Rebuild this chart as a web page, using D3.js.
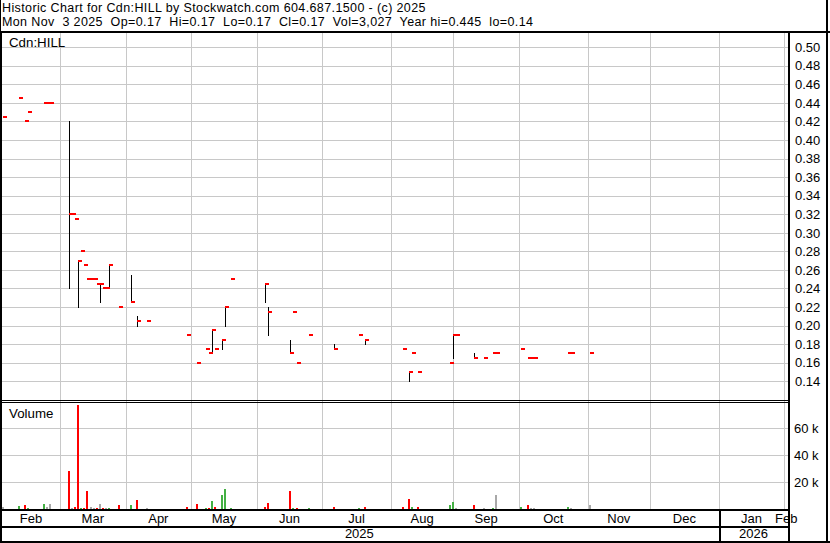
<!DOCTYPE html>
<html>
<head>
<meta charset="utf-8">
<title>Historic Chart for Cdn:HILL</title>
<script src="https://cdn.jsdelivr.net/npm/d3@7"></script>
<style>
    body { margin: 0; background: #fff; }
    svg { display: block; font-family: "Liberation Sans", Arial, sans-serif; }
    text { white-space: pre; }
</style>
</head>
<body>
<svg id="chart"></svg>
<script>
// Days that traded (price in $, volume in shares)
const dates = [
    "2025-02-03", "2025-02-10", "2025-02-12", "2025-02-13", "2025-02-21", "2025-02-24", "2025-02-25",
    "2025-03-05", "2025-03-06", "2025-03-07", "2025-03-10", "2025-03-11", "2025-03-12", "2025-03-13",
    "2025-03-14", "2025-03-17", "2025-03-18", "2025-03-19", "2025-03-20", "2025-03-21", "2025-03-24",
    "2025-03-27", "2025-04-02", "2025-04-04", "2025-04-09", "2025-04-29", "2025-05-02", "2025-05-07",
    "2025-05-08", "2025-05-09", "2025-05-12", "2025-05-14", "2025-05-15", "2025-05-20", "2025-06-04",
    "2025-06-05", "2025-06-16", "2025-06-17", "2025-06-18", "2025-06-24", "2025-07-07", "2025-07-17",
    "2025-07-21", "2025-08-07", "2025-08-11", "2025-08-12", "2025-08-14", "2025-08-28", "2025-08-29",
    "2025-09-02", "2025-09-10", "2025-09-15", "2025-09-18", "2025-09-19", "2025-10-01", "2025-10-03",
    "2025-10-06", "2025-10-07", "2025-10-23", "2025-10-24", "2025-11-03"
];
const highs = [
    0.425, 0.445, 0.42, 0.43, 0.44, 0.44, 0.44,
    0.42, 0.32, 0.315, 0.27, 0.28, 0.265, 0.25,
    0.25, 0.25, 0.245, 0.245, 0.24, 0.24, 0.265,
    0.22, 0.255, 0.21, 0.205, 0.19, 0.16, 0.175,
    0.17, 0.195, 0.175, 0.185, 0.22, 0.25, 0.245,
    0.22, 0.185, 0.215, 0.16, 0.19, 0.18, 0.19,
    0.185, 0.175, 0.15, 0.17, 0.15, 0.16, 0.19,
    0.19, 0.17, 0.165, 0.17, 0.17, 0.175, 0.165,
    0.165, 0.165, 0.17, 0.17, 0.17
];
const lows = [
    0.425, 0.445, 0.42, 0.43, 0.44, 0.44, 0.44,
    0.24, 0.32, 0.315, 0.22, 0.28, 0.265, 0.25,
    0.25, 0.25, 0.245, 0.225, 0.24, 0.24, 0.24,
    0.22, 0.225, 0.20, 0.205, 0.19, 0.16, 0.175,
    0.17, 0.17, 0.175, 0.175, 0.20, 0.25, 0.225,
    0.19, 0.17, 0.215, 0.16, 0.19, 0.175, 0.19,
    0.18, 0.175, 0.14, 0.17, 0.15, 0.16, 0.165,
    0.19, 0.165, 0.165, 0.17, 0.17, 0.175, 0.165,
    0.165, 0.165, 0.17, 0.17, 0.17
];
const closes = [
    0.425, 0.445, 0.42, 0.43, 0.44, 0.44, 0.44,
    0.32, 0.32, 0.315, 0.27, 0.28, 0.265, 0.25,
    0.25, 0.25, 0.245, 0.245, 0.24, 0.24, 0.265,
    0.22, 0.225, 0.205, 0.205, 0.19, 0.16, 0.175,
    0.17, 0.195, 0.175, 0.185, 0.22, 0.25, 0.245,
    0.215, 0.17, 0.215, 0.16, 0.19, 0.175, 0.19,
    0.185, 0.175, 0.15, 0.17, 0.15, 0.16, 0.19,
    0.19, 0.165, 0.165, 0.17, 0.17, 0.175, 0.165,
    0.165, 0.165, 0.17, 0.17, 0.17
];
const volumes = [
    1500, 2300, 3000, 1000, 3800, 1500, 3800,
    28000, 1000, 1500, 77000, 1000, 1000, 13000,
    1500, 1000, 500, 3800, 1000, 1000, 1000,
    3000, 3000, 7000, 500, 1500, 3800, 1000,
    500, 6000, 1500, 10500, 15000, 1000, 1500,
    4500, 13000, 500, 1000, 1000, 1500, 500,
    1500, 1500, 7500, 1500, 1500, 3000, 5000,
    1000, 3000, 1000, 500, 10500, 1500, 3000,
    1000, 1000, 1500, 500, 3027
];
const prevClose = 0.425;    // close before the first day shown (first bar is unchanged)

// Axis ticks and calendar
const priceTicks = [0.14, 0.16, 0.18, 0.20, 0.22, 0.24, 0.26, 0.28, 0.30, 0.32,
                    0.34, 0.36, 0.38, 0.40, 0.42, 0.44, 0.46, 0.48, 0.50];
const volumeTicks = [20000, 40000, 60000];
const holidays = ["2025-02-17", "2025-04-18", "2025-05-19", "2025-07-01", "2025-08-04",
                  "2025-09-01", "2025-10-13", "2025-12-25", "2026-01-01"];
const headerLines = [
    "Historic Chart for Cdn:HILL by Stockwatch.com 604.687.1500 - (c) 2025",
    "Mon Nov  3 2025  Op=0.17  Hi=0.17  Lo=0.17  Cl=0.17  Vol=3,027  Year hi=0.445  lo=0.14"
];

const W = 830, H = 543;
const plot = { left: 2, right: 788.3, priceTop: 33, priceBottom: 400, volTop: 403, volBottom: 509 };
const colors = { up: "#44b044", down: "#ff0000", flat: "#a8a8a8", grid: "#c8c8c8" };

const parseDay = d3.utcParse("%Y-%m-%d");
const fmtDay = d3.utcFormat("%Y-%m-%d");
const fmtMonth = d3.utcFormat("%b");

// trading calendar: weekdays minus exchange holidays, x is the trading-day index
const holidaySet = new Set(holidays);
const tradingDays = d3.utcDay.range(parseDay("2025-02-03"), parseDay("2026-03-01"))
    .filter(d => d.getUTCDay() % 6 !== 0 && !holidaySet.has(fmtDay(d)));
const dayIndex = new Map(tradingDays.map((d, i) => [fmtDay(d), i]));

const x = d3.scaleLinear().domain([0, 188]).range([3.1, 590]);
const slotShift = 2.4;      // month gridline sits just before the first bar of the month
const yPrice = d3.scaleLinear().domain([0.14, 0.50]).range([381.3, 47.2]);
const yVol = d3.scaleLinear().domain([0, 80000]).range([509, 401]);

const bars = dates.map((d, i) => ({
    idx: dayIndex.get(d),
    hi: highs[i], lo: lows[i], cl: closes[i], vol: volumes[i],
    prev: i === 0 ? prevClose : closes[i - 1]
}));

const svg = d3.select("#chart").attr("width", W).attr("height", H)
    .style("background", "#fff");

svg.append("defs").call(defs => {
    defs.append("clipPath").attr("id", "clipPrice").append("rect")
        .attr("x", plot.left).attr("y", plot.priceTop)
        .attr("width", plot.right - plot.left).attr("height", plot.priceBottom - plot.priceTop);
    defs.append("clipPath").attr("id", "clipVol").append("rect")
        .attr("x", plot.left).attr("y", plot.volTop)
        .attr("width", plot.right - plot.left).attr("height", plot.volBottom - plot.volTop);
});

// month boundaries -> gridline positions
const months = d3.utcMonth.range(parseDay("2025-02-01"), parseDay("2026-02-02")).map(m => {
    const i = tradingDays.findIndex(d => d >= m);
    return { date: m, gx: x(i) - slotShift };
});
months.forEach((m, i) => {
    m.x0 = Math.max(plot.left, m.gx);
    m.x1 = i < months.length - 1 ? Math.min(plot.right, months[i + 1].gx) : plot.right;
});

// ---- gridlines
const grid = svg.append("g").attr("stroke", colors.grid).attr("stroke-width", 1)
    .attr("shape-rendering", "crispEdges");
grid.selectAll(".hp").data(priceTicks).join("line")
    .attr("x1", plot.left).attr("x2", plot.right)
    .attr("y1", d => Math.round(yPrice(d)) + 0.5).attr("y2", d => Math.round(yPrice(d)) + 0.5);
grid.selectAll(".hv").data(volumeTicks).join("line")
    .attr("x1", plot.left).attr("x2", plot.right)
    .attr("y1", d => Math.round(yVol(d)) + 0.5).attr("y2", d => Math.round(yVol(d)) + 0.5);
grid.selectAll(".vm").data(months.filter(m => m.gx > plot.left + 1)).join("line")
    .attr("x1", d => Math.round(d.gx) + 0.5).attr("x2", d => Math.round(d.gx) + 0.5)
    .attr("y1", plot.priceTop).attr("y2", plot.volBottom);

// ---- price panel: high-low line plus close tick
const price = svg.append("g").attr("clip-path", "url(#clipPrice)").attr("shape-rendering", "crispEdges");
price.selectAll("line").data(bars.filter(b => b.hi > b.lo)).join("line")
    .attr("x1", d => Math.round(x(d.idx)) + 0.5).attr("x2", d => Math.round(x(d.idx)) + 0.5)
    .attr("y1", d => yPrice(d.hi)).attr("y2", d => yPrice(d.lo) + 1)
    .attr("stroke", "#000").attr("stroke-width", 1);
price.selectAll("rect").data(bars).join("rect")
    .attr("x", d => Math.round(x(d.idx)))
    .attr("y", d => Math.round(yPrice(d.cl)) - 1)
    .attr("width", 4).attr("height", 2)
    .attr("fill", colors.down);

// ---- volume panel, coloured by change in close
const vol = svg.append("g").attr("clip-path", "url(#clipVol)").attr("shape-rendering", "crispEdges");
vol.selectAll("rect").data(bars).join("rect")
    .attr("x", d => Math.round(x(d.idx)) - 1)
    .attr("y", d => yVol(d.vol))
    .attr("width", 2)
    .attr("height", d => yVol(0) - yVol(d.vol))
    .attr("fill", d => d.cl > d.prev ? colors.up : d.cl < d.prev ? colors.down : colors.flat);

// ---- texts
const txt = svg.append("g").attr("font-size", 13.3).attr("fill", "#000");
txt.selectAll(".hdr").data(headerLines).join("text")
    .attr("x", 2).attr("y", (d, i) => 12.3 + i * 14)
    .attr("font-size", 12.5).attr("letter-spacing", 0.38)
    .text(d => d);
txt.append("text").attr("x", 9).attr("y", 46.5).text("Cdn:HILL");
txt.append("text").attr("x", 9).attr("y", 418).text("Volume");

txt.selectAll(".pl").data(priceTicks).join("text")
    .attr("x", 795).attr("y", d => yPrice(d) + 4.7)
    .attr("font-size", 13)
    .text(d => d3.format(".2f")(d));
txt.selectAll(".vl").data(volumeTicks).join("text")
    .attr("x", 794).attr("y", d => yVol(d) + 4.7)
    .attr("font-size", 13)
    .text(d => (d / 1000) + " k");

txt.selectAll(".ml").data(months).join("text")
    .attr("x", d => (d.x0 + d.x1) / 2).attr("y", 523.3)
    .attr("text-anchor", "middle").attr("font-size", 13)
    .text(d => fmtMonth(d.date));

// year labels centred over their span of months
const yearSplit = months.find(m => m.date.getUTCFullYear() === 2026).gx;
const years = [
    { label: "2025", x0: 0, x1: yearSplit },
    { label: "2026", x0: yearSplit, x1: plot.right }
];
txt.selectAll(".yl").data(years).join("text")
    .attr("x", d => (d.x0 + d.x1) / 2).attr("y", 538)
    .attr("text-anchor", "middle").attr("font-size", 13)
    .text(d => d.label);

// ---- frame lines
const frame = svg.append("g").attr("stroke", "#000").attr("shape-rendering", "crispEdges");
const seg = (x1, y1, x2, y2, w) => frame.append("line")
    .attr("x1", x1).attr("y1", y1).attr("x2", x2).attr("y2", y2).attr("stroke-width", w);
seg(0.5, 0, 0.5, H, 1);
seg(1, 32, 1, H, 2);
seg(0, 32, W, 32, 2);
seg(827.3, 0, 827.3, H, 2);
seg(789.3, 32, 789.3, H, 2);
seg(0, 400.5, 789, 400.5, 1);
seg(0, 402.5, 789, 402.5, 1);
seg(0, 510.3, 789, 510.3, 2);
seg(0, 526.7, 789, 526.7, 2);
seg(0, 541.7, W, 541.7, 2);
seg(Math.round(yearSplit) + 1, 510, Math.round(yearSplit) + 1, 542, 2);
</script>
</body>
</html>
